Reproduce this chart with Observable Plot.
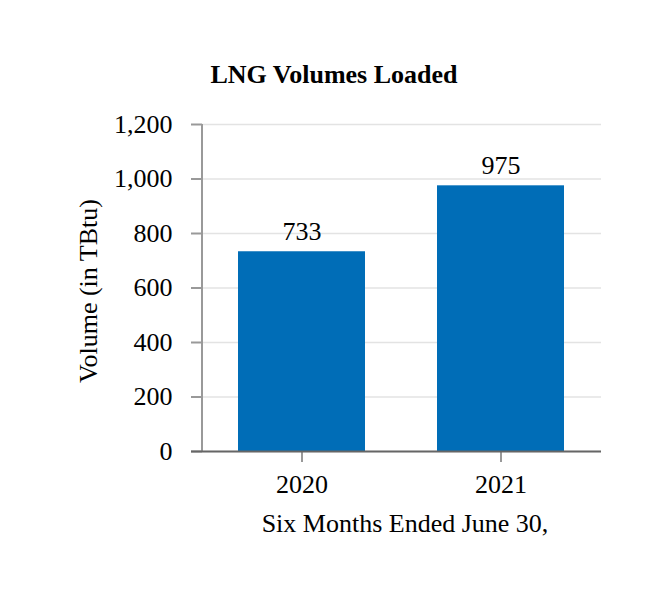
<!DOCTYPE html>
<html><head>
<meta charset="utf-8">
<script src="https://cdn.jsdelivr.net/npm/d3@7"></script>
<script src="https://cdn.jsdelivr.net/npm/@observablehq/plot@0.6"></script>
<style>
body{margin:0;background:#fff;font-family:"Liberation Serif","Times New Roman",serif}
#title{height:100px;position:relative}
#title span{position:absolute;left:0;width:668px;text-align:center;top:60px;font-weight:bold;font-size:26px;color:#000}
</style></head><body>
<div id="title"><span>LNG Volumes Loaded</span></div>
<div id="chart"></div>
<script>
const periods = ["2020", "2021"];
const volumes = [733, 975];
const yTicks = [0, 200, 400, 600, 800, 1000, 1200];
const xTitle = "Six Months Ended June 30,";
const yTitle = "Volume (in TBtu)";

const data = periods.map((p, i) => ({period: p, volume: volumes[i]}));

const FS = 26;
const chart = Plot.plot({
  width: 666, height: 500,
  marginTop: 24, marginBottom: 149, marginLeft: 202, marginRight: 65,
  style: {fontFamily: "Liberation Serif, Times New Roman, serif", fontSize: FS + "px", color: "#000", background: "#fff", overflow: "visible"},
  x: {domain: periods, paddingInner: 0.36, paddingOuter: 0.18, axis: null},
  y: {domain: [0, 1200], axis: null},
  marks: [
    Plot.gridY(yTicks, {stroke: "#e3e3e3", strokeOpacity: 1, strokeWidth: 1.5}),
    Plot.barY(data, {x: "period", y: "volume", fill: "#006db7"}),
    Plot.text(data, {x: "period", y: "volume", text: d => String(d.volume), lineAnchor: "bottom", dy: -12, fontSize: FS, fill: "#000"}),
    Plot.axisY(yTicks, {tickSize: 11, tickPadding: 19, stroke: "#999", strokeWidth: 2, fill: "#000", label: null, tickFormat: d3.format(","), fontSize: FS}),
    (index, scales, values, dims) => {
      const g = d3.create("svg:line")
        .attr("x1", dims.marginLeft).attr("x2", dims.marginLeft)
        .attr("y1", dims.marginTop).attr("y2", dims.height - dims.marginBottom)
        .attr("stroke", "#999").attr("stroke-width", 2);
      return g.node();
    },
    Plot.axisX(periods, {tickSize: 11, tickPadding: 12, stroke: "#999", strokeWidth: 2, fill: "#000", label: null, fontSize: FS}),
    Plot.ruleY([0], {stroke: "#666", strokeWidth: 2, insetLeft: -11}),
    Plot.text([xTitle], {text: d => d, frameAnchor: "bottom", dy: 72, dx: 3, lineAnchor: "middle", fontSize: FS, fill: "#000"}),
    Plot.text([yTitle], {text: d => d, frameAnchor: "left", textAnchor: "middle", dx: -114, dy: 3, rotate: -90, lineAnchor: "middle", fontSize: FS, fill: "#000"})
  ]
});
document.getElementById("chart").appendChild(chart);
</script>
</body></html>
